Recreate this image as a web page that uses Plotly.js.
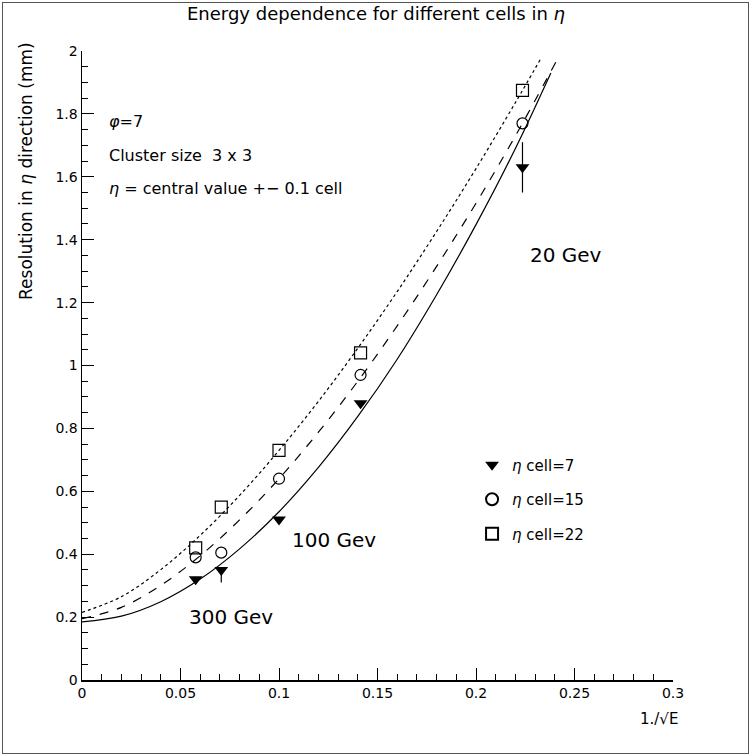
<!DOCTYPE html>
<html>
<head>
<meta charset="utf-8">
<script src="https://cdn.plot.ly/plotly-3.0.1.min.js"></script>
<style>
  html, body { margin: 0; padding: 0; background: #fff; }
  #chart { width: 752px; height: 756px; }
  #frame { position: absolute; left: 2px; top: 2px; width: 745px; height: 750px; border: 1px solid #555; pointer-events: none; }
</style>
</head>
<body>
<div id="chart"></div>
<div id="frame"></div>
<script>
// Data (x = 1/sqrt(E))
const xPoints = [0.0577, 0.0707, 0.1, 0.1414, 0.2236];
const cell7 = [0.32, 0.35, 0.51, 0.88, 1.63];
const cell7ErrPlus = [0, 0, 0, 0, 0.08];
const cell7ErrMinus = [0, 0.04, 0, 0, 0.08];
const cell15 = [0.39, 0.405, 0.64, 0.97, 1.77];
const cell22 = [0.42, 0.55, 0.73, 1.04, 1.875];

// Fit curves
const fitX = [0, 0.02, 0.04, 0.06, 0.08, 0.1, 0.12, 0.14, 0.16, 0.18, 0.2, 0.22];
const fit7Y = [0.185, 0.203, 0.249, 0.321, 0.417, 0.535, 0.676, 0.838, 1.02, 1.225, 1.448, 1.69];
const fit15Y = [0.195, 0.231, 0.301, 0.395, 0.509, 0.64, 0.788, 0.95, 1.126, 1.315, 1.516, 1.73];
const fit22Y = [0.215, 0.265, 0.351, 0.46, 0.587, 0.73, 0.886, 1.055, 1.235, 1.426, 1.626, 1.836];
const fit7End = [0.238, 1.93];
const fit15End = [0.241, 1.97];
const fit22End = [0.233, 1.977];

const xTickVals = [0, 0.05, 0.1, 0.15, 0.2, 0.25, 0.3];
const xTickText = ["0", "0.05", "0.1", "0.15", "0.2", "0.25", "0.3"];
const yTickVals = [0, 0.2, 0.4, 0.6, 0.8, 1, 1.2, 1.4, 1.6, 1.8, 2];
const yTickText = ["0", "0.2", "0.4", "0.6", "0.8", "1", "1.2", "1.4", "1.6", "1.8", "2"];

const FONT = "DejaVu Sans, Arial, sans-serif";

const curve = (ys, end, dash) => ({
  x: fitX.concat([end[0]]), y: ys.concat([end[1]]), mode: 'lines',
  line: {color: '#000', width: 1.2, dash: dash, shape: 'spline', smoothing: 1},
  showlegend: false, hoverinfo: 'skip'});

const traces = [
  curve(fit7Y, fit7End, 'solid'),
  curve(fit15Y, fit15End, 'dash'),
  curve(fit22Y, fit22End, 'dot'),
  {x: xPoints, y: cell7, mode: 'markers', name: '<i>η</i> cell=7', legendgroup: 'a',
   marker: {symbol: 'triangle-down', size: 12, color: '#000'},
   error_y: {type: 'data', symmetric: false, array: cell7ErrPlus, arrayminus: cell7ErrMinus, color: '#000', thickness: 1.2, width: 0}},
  {x: xPoints, y: cell15, mode: 'markers', name: '<i>η</i> cell=15', legendgroup: 'b',
   marker: {symbol: 'circle-open', size: 11, color: '#000', line: {width: 1.2}}},
  {x: xPoints, y: cell22, mode: 'markers', name: '<i>η</i> cell=22', legendgroup: 'c',
   marker: {symbol: 'square-open', size: 12, color: '#000', line: {width: 1.2}}}
];

const ann = (x, y, text, size) => ({x, y, xref: 'x', yref: 'y', text, showarrow: false,
  xanchor: 'left', yanchor: 'middle', font: {family: FONT, size: size || 15, color: '#000'}});

const layout = {
  width: 752, height: 756,
  margin: {l: 82, r: 79, t: 51, b: 76},
  paper_bgcolor: '#fff', plot_bgcolor: '#fff',
  font: {family: FONT, size: 14, color: '#000'},
  title: {text: 'Energy dependence for different cells in <i>η</i>', x: 0.5, xanchor: 'center',
    yref: 'container', y: 0.982, yanchor: 'middle',
    font: {family: FONT, size: 18, color: '#000'}},
  xaxis: {range: [0, 0.3], tickvals: xTickVals, ticktext: xTickText, ticks: 'inside', ticklen: 12, tickwidth: 1,
    tickcolor: '#000', showline: true, linecolor: '#000', linewidth: 1.5, showgrid: false, zeroline: false,
    minor: {dtick: 0.01, ticks: 'inside', ticklen: 6, tickcolor: '#000', showgrid: false},
    tickfont: {family: FONT, size: 14}},
  yaxis: {range: [0, 2], tickvals: yTickVals, ticktext: yTickText, ticks: 'inside', ticklen: 12, tickwidth: 1,
    tickcolor: '#000', showline: true, linecolor: '#000', linewidth: 1.5, showgrid: false, zeroline: false,
    minor: {dtick: 0.05, ticks: 'inside', ticklen: 6, tickcolor: '#000', showgrid: false},
    tickfont: {family: FONT, size: 14}},
  legend: {x: 0.66, y: 0.368, xanchor: 'left', yanchor: 'top', bgcolor: 'rgba(0,0,0,0)',
    font: {family: FONT, size: 15}, tracegroupgap: 12, itemsizing: 'constant'},
  annotations: [
    {x: -0.096, y: 1.018, xref: 'paper', yref: 'paper', text: 'Resolution in <i>η</i> direction (mm)',
     textangle: -90, showarrow: false, xanchor: 'center', yanchor: 'top', font: {family: FONT, size: 17}},
    {x: 1.012, y: -0.045, xref: 'paper', yref: 'paper', text: '1./√E', showarrow: false,
     xanchor: 'right', yanchor: 'top', font: {family: FONT, size: 15}},
    ann(0.0127, 1.777, '<i>φ</i>=7', 16),
    ann(0.0127, 1.669, 'Cluster size  3 x 3', 16),
    ann(0.0127, 1.564, '<i>η</i> = central value +− 0.1 cell', 16),
    ann(0.2265, 1.351, '20 Gev', 20),
    ann(0.1056, 0.445, '100 Gev', 20),
    ann(0.0533, 0.2, '300 Gev', 20)
  ]
};

Plotly.newPlot('chart', traces, layout, {displayModeBar: false, staticPlot: true});
</script>
</body>
</html>
